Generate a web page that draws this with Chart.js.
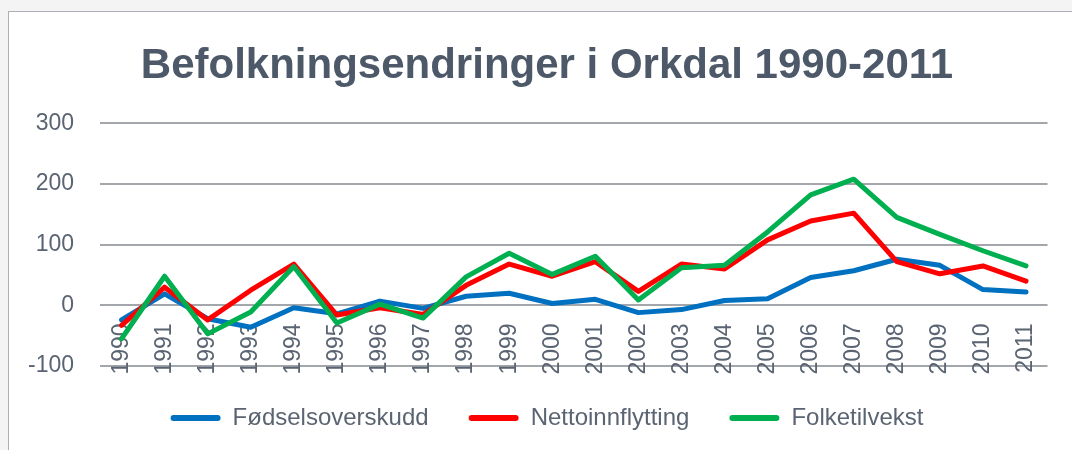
<!DOCTYPE html>
<html>
<head>
<meta charset="utf-8">
<script src="https://cdn.jsdelivr.net/npm/chart.js@4"></script>
<style>
    html, body { margin: 0; padding: 0; overflow: hidden; background: #f4f4f4; }
    .frame {
        position: absolute;
        left: 8px;
        top: 11px;
        width: 1100px;
        height: 480px;
        background: #fff;
        border-left: 1px solid #aab0b6;
        border-top: 1px solid #aab0b6;
    }
    #myChart { display: block; }
</style>
</head>
<body>
<div class="frame">
    <canvas id="myChart" width="1063" height="428"></canvas>
</div>
<script>
    const years = ['1990', '1991', '1992', '1993', '1994', '1995', '1996', '1997', '1998', '1999', '2000',
        '2001', '2002', '2003', '2004', '2005', '2006', '2007', '2008', '2009', '2010', '2011']

    const fodselsoverskudd = [-24, 19, -22, -36, -4, -14, 7, -5, 15, 20, 3, 10, -12, -7, 8, 11, 46, 57, 76, 66, 26, 22]
    const nettoinnflytting = [-33, 30, -24, 25, 68, -16, -4, -15, 33, 68, 48, 72, 23, 68, 60, 108, 139, 152, 72, 52, 65, 40]
    const folketilvekst = [-55, 48, -47, -11, 64, -29, 2, -21, 47, 86, 51, 81, 9, 62, 66, 121, 182, 208, 145, 117, 90, 65]

    const yTicks = [-100, 0, 100, 200, 300]

    const textColor = '#5a6472'
    const fontFamily = '"Liberation Sans", Arial, sans-serif'

    const series = [
        { label: 'Fødselsoverskudd', data: fodselsoverskudd, color: '#0070c0', order: 3 },
        { label: 'Nettoinnflytting', data: nettoinnflytting, color: '#ff0000', order: 2 },
        { label: 'Folketilvekst', data: folketilvekst, color: '#00b050', order: 1 }
    ]

    let dataSets = series.map(s => ({
        label: s.label,
        data: s.data,
        borderColor: s.color,
        backgroundColor: s.color,
        borderWidth: 5,
        borderCapStyle: 'round',
        borderJoinStyle: 'round',
        pointRadius: 0,
        tension: 0,
        fill: false,
        order: s.order
    }))

    // titulo e legenda ficam um pouco a direita do centro, como no original
    const shiftBlocks = {
        id: 'shiftBlocks',
        afterLayout: function (chart) {
            [chart.titleBlock, chart.legend].forEach(block => {
                if (block) block.left += 30
            })
        }
    }

    const options = {
        responsive: false,
        animation: false,
        layout: {
            padding: { left: 0, right: 17, top: 0, bottom: 0 }
        },
        plugins: {
            tooltip: { enabled: false },
            title: {
                display: true,
                text: 'Befolkningsendringer i Orkdal 1990-2011',
                color: '#4d5968',
                font: { family: fontFamily, size: 42, weight: 'bold' },
                padding: { top: 29, bottom: 32 }
            },
            legend: {
                position: 'bottom',
                labels: {
                    color: textColor,
                    font: { family: fontFamily, size: 24 },
                    boxWidth: 50,
                    boxHeight: 6,
                    padding: 40,
                    useBorderRadius: true,
                    borderRadius: 3,
                    sort: (a, b) => a.datasetIndex - b.datasetIndex,
                    generateLabels: function (chart) {
                        // sem contorno no simbolo da legenda
                        return Chart.defaults.plugins.legend.labels.generateLabels(chart).map(item => {
                            item.lineWidth = 0
                            return item
                        })
                    }
                }
            }
        },
        scales: {
            x: {
                type: 'category',
                offset: true,
                position: { y: 0 },
                afterFit: scale => { scale.height = 3 },
                grid: { display: false, drawTicks: false },
                border: { display: false },
                ticks: {
                    color: textColor,
                    font: { family: fontFamily, size: 23 },
                    minRotation: 90,
                    maxRotation: 90,
                    autoSkip: false,
                    padding: 18
                }
            },
            y: {
                min: -100,
                max: 300,
                afterFit: scale => { scale.width = 91 },
                afterBuildTicks: scale => {
                    scale.ticks = yTicks.map(v => ({ value: v }))
                },
                grid: { color: '#a3a7ac', lineWidth: 2, drawTicks: false },
                border: { display: false },
                ticks: {
                    color: textColor,
                    font: { family: fontFamily, size: 23 },
                    padding: 26,
                    callback: value => String(value)
                }
            }
        }
    }

    let canvas = document.getElementById('myChart')

    new Chart(canvas, {
        type: 'line',
        data: {
            labels: years,
            datasets: [...dataSets]
        },
        options: options,
        plugins: [shiftBlocks]
    })
</script>
</body>
</html>
